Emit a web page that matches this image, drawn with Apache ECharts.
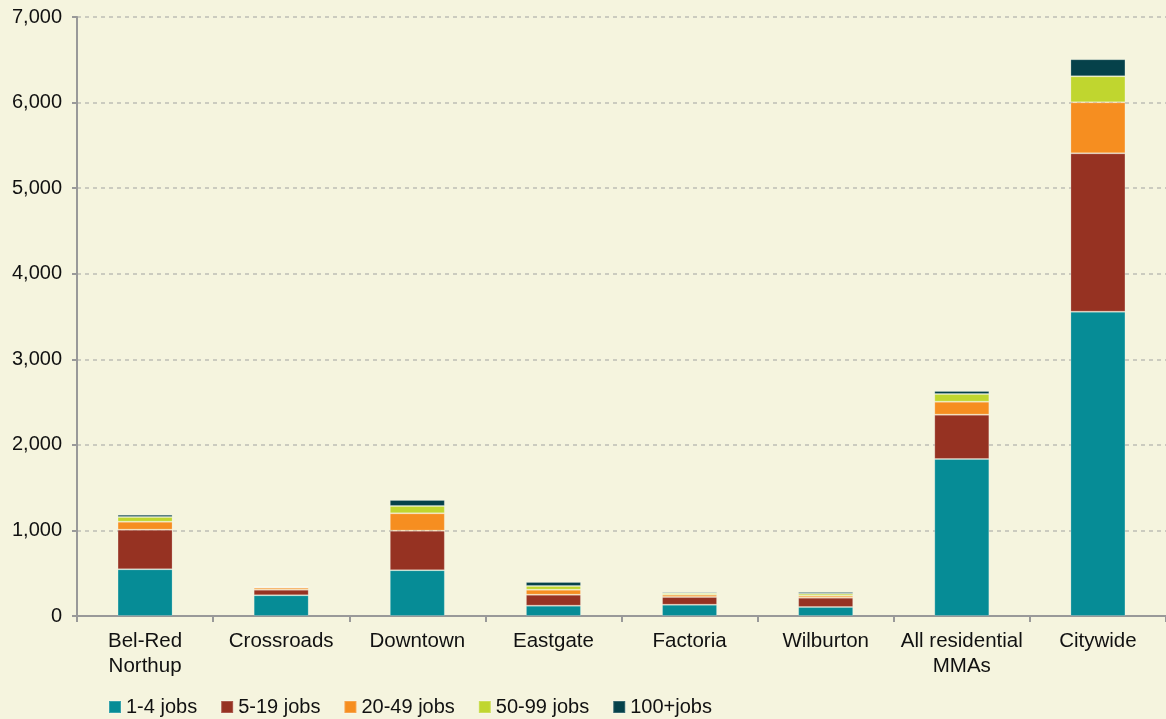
<!DOCTYPE html>
<html><head><meta charset="utf-8">
<script src="https://cdn.jsdelivr.net/npm/echarts@6/dist/echarts.min.js"></script>
<style>html,body{margin:0;padding:0;background:#F5F4DE;}#c{width:1166px;height:719px;}</style>
</head><body><div id="c"></div>
<script>
const categories = ["Bel-Red\nNorthup","Crossroads","Downtown","Eastgate","Factoria","Wilburton","All residential\nMMAs","Citywide"];
const seriesNames = ["1-4 jobs","5-19 jobs","20-49 jobs","50-99 jobs","100+jobs"];
const jobs1to4   = [546, 242, 535, 121, 132, 105, 1835, 3556];
const jobs5to19  = [463,  66, 462, 128,  90, 109,  518, 1851];
const jobs20to49 = [ 93,  23, 203,  58,  27,  23,  152,  596];
const jobs50to99 = [ 55,  12,  86,  44,  16,  24,   89,  304];
const jobs100p   = [ 27,   4,  70,  46,  15,  19,   35,  199];
const yTicks = [0,1000,2000,3000,4000,5000,6000,7000];
const colors = ["#068C96","#963222","#F68E20","#C0D62F","#05414A"];
const values = [jobs1to4, jobs5to19, jobs20to49, jobs50to99, jobs100p];

const chart = echarts.init(document.getElementById('c'));
chart.setOption({
  backgroundColor: '#F5F4DE',
  animation: false,
  textStyle: {fontFamily: 'Liberation Sans, Arial, sans-serif'},
  grid: {left: 77, right: -7, top: 17, bottom: 103, containLabel: false},
  legend: {
    top: 692, left: 103, itemWidth: 12, itemHeight: 12, itemGap: 23, icon: 'rect',
    textStyle: {fontSize: 20, color: '#111', fontFamily: 'Liberation Sans, Arial, sans-serif'},
    data: seriesNames
  },
  xAxis: {
    type: 'category', data: categories,
    axisLine: {lineStyle: {color: '#999', width: 2}},
    axisTick: {show: true, length: 6, lineStyle: {color: '#999', width: 2}},
    axisLabel: {fontSize: 20.5, color: '#111', margin: 13, lineHeight: 25, interval: 0}
  },
  yAxis: {
    type: 'value', min: 0, max: 7000, interval: 1000,
    axisLine: {show: true, lineStyle: {color: '#999', width: 2}},
    axisTick: {show: true, length: 5, lineStyle: {color: '#999', width: 2}},
    axisLabel: {fontSize: 20, color: '#111', margin: 15,
      formatter: v => yTicks.includes(v) ? v.toLocaleString('en-US') : ''},
    splitLine: {show: true, lineStyle: {color: '#BDBDB5', type: [4,4], width: 1.5}}
  },
  series: seriesNames.map((n,i) => ({
    name: n, type: 'bar', stack: 'total', barWidth: 55,
    itemStyle: {color: colors[i], borderColor: 'rgba(255,255,255,0.2)', borderWidth: 1},
    data: values[i]
  }))
});
</script></body></html>
